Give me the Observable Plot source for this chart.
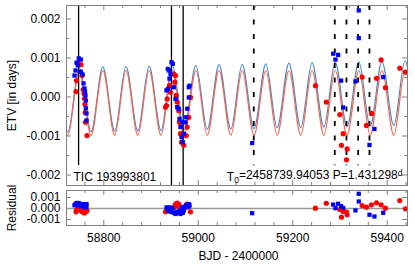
<!DOCTYPE html>
<html><head><meta charset="utf-8">
<script src="https://cdn.jsdelivr.net/npm/d3@7"></script>
<script src="https://cdn.jsdelivr.net/npm/@observablehq/plot@0.6"></script>
<style>
html,body{margin:0;padding:0;background:#fff;}
#chart svg{display:block;}
</style></head><body><div id="chart"></div>
<script>
// ---- data ----
const targetName = "TIC 193993801";
const epochT0 = "2458739.94053";
const periodP = "1.431298";
const yLabel = "ETV [in days]";
const resLabel = "Residual";
const xLabel = "BJD - 2400000";
const xTicks = [58800, 59000, 59200, 59400];
const yTicks = [-0.002, -0.001, 0, 0.001, 0.002];
const resTicks = [-0.001, 0, 0.001];

// red circles (time, ETV, residual)
const redT = [58741.1, 58742.2, 58744.9, 58751.7, 58754.2, 58756.4, 58758.0, 58759.1, 58760.2, 58760.6, 58761.2, 58764.4,
  58930.6, 58932.9, 58934.2, 58939.0, 58941.2, 58948.2, 58950.3, 58951.8, 58953.2, 58955.4, 58958.7, 58960.2, 58962.3, 58964.5, 58969.3, 58974.4, 58976.5, 58979.9, 58983.5,
  59248.1, 59271.0, 59299.6, 59303.2, 59306.8, 59313.8, 59315.2, 59347.0, 59356.1, 59366.7, 59377.3, 59387.2, 59396.3, 59426.6, 59438.7];
const redV = [0.00014, 0.00042, 0.00086, 0.00083, 0.00055, 0.00019, 0.00009, -0.00004, -0.00019, -0.00040, -0.00065, -0.00099,
  -0.00026, -0.00022, -0.00005, 0.00029, 0.00012, 0.00059, 0.00038, 0.00055, 0.00004, -0.00013, -0.00035, -0.00065, -0.00094, -0.00116, -0.00124, -0.00099, -0.00077, -0.00052, -0.00001,
  0.00029, -0.00013, -0.00045, -0.00124, -0.00094, -0.00161, -0.00133, 0.00051, -0.00073, -0.00042, 0.00048, 0.00095, 0.00024, 0.00074, 0.00064];
const redRes = [-0.0003, -0.0001, 0.0000, -0.0002, -0.0003, -0.0001, -0.0002, -0.0004, -0.0001, -0.0002, -0.0003, -0.0002,
  -0.0003, -0.0002, -0.0001, 0.0000, -0.0002, 0.0001, 0.0002, 0.0004, 0.0003, 0.0005, 0.0004, 0.0002, 0.0001, -0.0001, 0.0000, 0.0003, 0.0004, 0.0002, -0.0003,
  0.00003, 0.00048, -0.00009, -0.00079, -0.00027, -0.00034, -0.00057, 0.00027, 0.00012, 0.00034, 0.00052, 0.00034, 0.00003, 0.00073, -0.00003];

// blue squares (time, ETV, residual)
const blueT = [58737.9, 58740.1, 58742.2, 58744.9, 58747.0, 58751.3, 58751.3, 58754.9, 58757.0, 58759.1, 58760.2, 58761.2, 58761.9, 58761.9, 58763.3, 58763.3,
  58932.7, 58935.5, 58936.3, 58937.6, 58939.0, 58941.2, 58943.3, 58946.0, 58948.2, 58951.8, 58955.4, 58958.7, 58960.2, 58962.3, 58964.5, 58966.0, 58967.2, 58969.3, 58972.9, 58974.4, 58976.5, 58979.9, 58979.9, 58981.4,
  59114.1, 59285.6, 59290.5, 59296.2, 59302.5, 59306.8, 59332.8, 59339.8, 59339.8, 59362.5, 59373.0, 59391.5];
const blueV = [0.00055, 0.00068, 0.00088, 0.00081, 0.00099, 0.00096, 0.00065, 0.00058, 0.00035, 0.00022, 0.00014, 0.00004, -0.00009, -0.00029, -0.00042, -0.00060,
  0.00017, 0.00072, 0.00021, 0.00068, 0.00047, 0.00059, 0.00089, 0.00085, 0.00025, -0.00005, -0.00026, -0.00030, -0.00056, -0.00077, -0.00103, -0.00065, -0.00116, -0.00094, -0.00065, -0.00052, -0.00030, -0.00001, 0.00025, 0.00029,
  -0.00118, 0.00111, 0.00096, 0.00108, 0.00042, -0.00027, 0.00040, 0.00222, 0.00151, -0.00123, -0.00082, 0.00051];
const blueRes = [0.0003, 0.0004, 0.0005, 0.0003, 0.0005, 0.0004, 0.0002, 0.0003, 0.0002, 0.0004, 0.0003, 0.0002, 0.0003, 0.0001, 0.0004, 0.0002,
  0.0001, 0.0000, -0.0002, -0.0001, 0.0001, -0.0003, -0.0002, 0.0000, -0.0004, -0.0005, -0.0003, -0.0004, -0.0002, -0.0005, -0.0003, 0.0001, -0.0004, -0.0002, 0.0002, 0.0003, 0.0001, 0.0002, 0.0004, 0.0003,
  -0.00043, 0.00036, 0.00003, 0.00043, 0.00021, 0.00005, -0.00018, 0.00134, 0.00064, -0.00057, -0.00073, -0.00039];

// model curves: extrema
const bluePeakT = [58699, 58748, 58798, 58847, 58896, 58945, 58995, 59044, 59093, 59143, 59192, 59241, 59290, 59340, 59389, 59438, 59487];
const bluePeakV = [0.00074, 0.00075, 0.00077, 0.00078, 0.00079, 0.00080, 0.00081, 0.00083, 0.00084, 0.00085, 0.00087, 0.00088, 0.00089, 0.00090, 0.00091, 0.00093, 0.00094];
const blueTroughT = [58724, 58773, 58823, 58872, 58921, 58970, 59019, 59069, 59118, 59167, 59217, 59266, 59315, 59364, 59414, 59463];
const blueTroughV = [-0.00090, -0.00089, -0.00088, -0.00087, -0.00086, -0.00084, -0.00083, -0.00082, -0.00081, -0.00079, -0.00078, -0.00077, -0.00076, -0.00075, -0.00073, -0.00072];
const redPeakT = [58699, 58748, 58798, 58847, 58896, 58945, 58995, 59044, 59093, 59143, 59192, 59241, 59290, 59340, 59389, 59438, 59487];
const redPeakV = [0.00068, 0.00068, 0.00068, 0.00068, 0.00068, 0.00068, 0.00068, 0.00068, 0.00068, 0.00068, 0.00068, 0.00068, 0.00068, 0.00068, 0.00068, 0.00068, 0.00068];
const redTroughT = [58724, 58773, 58823, 58872, 58921, 58970, 59019, 59069, 59118, 59167, 59217, 59266, 59315, 59364, 59414, 59463];
const redTroughV = [-0.00098, -0.00098, -0.00098, -0.00098, -0.00098, -0.00098, -0.00098, -0.00098, -0.00098, -0.00098, -0.00098, -0.00098, -0.00098, -0.00098, -0.00098, -0.00098];

// vertical markers
const solidShortT = [58746.6];
const solidFullT = [58943.2, 58968.0];
const dashedT = [59117.5, 59289.0, 59313.8, 59338.5, 59362.5];
const markerBottom = -0.00176;

// ---- build ----
const xDomain = [58721, 59443];
const yDomain = [-0.002269, 0.002346];
const resDomain = [-0.00155, 0.00164];
const W = 415, ML = 66, MR = 8;
const FW = W - ML - MR;
const gray = "#808080";
const font = {fontFamily: "'Liberation Sans', Arial, Helvetica, sans-serif", fontSize: "12px", background: "white", color: "black"};

const red = redT.map((t, i) => ({t, v: redV[i], res: redRes[i]}));
const blue = blueT.map((t, i) => ({t, v: blueV[i], res: blueRes[i]}));
const mk = (pt, pv, tt, tv) => pt.map((t, i) => ({t, v: pv[i]})).concat(tt.map((t, i) => ({t, v: tv[i]}))).sort((a, b) => a.t - b.t);
const blueModel = mk(bluePeakT, bluePeakV, blueTroughT, blueTroughV);
const redModel = mk(redPeakT, redPeakV, redTroughT, redTroughV);

const xMinor = d3.range(58760, 59441, 40).filter(d => !xTicks.includes(d));
function frameTicks(FH, yMaj, yMin) {
  return [
    Plot.tickY(yMaj, {y: d => d, stroke: gray, insetRight: FW - 5}),
    Plot.tickY(yMaj, {y: d => d, stroke: gray, insetLeft: FW - 5}),
    Plot.tickY(yMin, {y: d => d, stroke: gray, insetRight: FW - 3}),
    Plot.tickY(yMin, {y: d => d, stroke: gray, insetLeft: FW - 3}),
    Plot.tickX(xTicks, {x: d => d, stroke: gray, insetTop: FH - 5}),
    Plot.tickX(xTicks, {x: d => d, stroke: gray, insetBottom: FH - 5}),
    Plot.tickX(xMinor, {x: d => d, stroke: gray, insetTop: FH - 3}),
    Plot.tickX(xMinor, {x: d => d, stroke: gray, insetBottom: FH - 3})
  ];
}

const t0Label = "T0=" + epochT0 + " P=" + periodP + "d";

const main = Plot.plot({
  width: W, height: 188, marginLeft: ML, marginRight: MR, marginTop: 5, marginBottom: 3,
  style: font,
  x: {domain: xDomain, axis: null},
  y: {domain: yDomain},
  marks: [
    ...frameTicks(180, yTicks, [-0.0015, -0.0005, 0.0005, 0.0015]),
    Plot.line(blueModel, {x: "t", y: "v", stroke: "#4a86c5", strokeWidth: 1.2, curve: "monotone-x", clip: true}),
    Plot.line(redModel, {x: "t", y: "v", stroke: "#f2694f", strokeWidth: 1.2, curve: "monotone-x", clip: true}),
    Plot.ruleX(solidShortT, {x: d => d, y1: yDomain[1], y2: markerBottom, stroke: "black", strokeWidth: 1.3}),
    Plot.ruleX(solidFullT, {x: d => d, stroke: "black", strokeWidth: 1.3}),
    Plot.ruleX(dashedT, {x: d => d, y1: yDomain[1], y2: markerBottom, stroke: "black", strokeWidth: 1.8, strokeDasharray: "5,9.5"}),
    Plot.dot(red, {x: "t", y: "v", r: 2.6, fill: "#ff0000", stroke: "none"}),
    Plot.dot(blue, {x: "t", y: "v", r: 2.4, symbol: "square", fill: "#0000ff", stroke: "none"}),
    Plot.frame({stroke: gray}),
    Plot.axisY(yTicks, {tickSize: 0, tickPadding: 6, tickFormat: d => d.toFixed(3), label: null}),
    Plot.text([targetName], {text: d => d, frameAnchor: "bottom-left", dx: 7, dy: -5, lineAnchor: "bottom", textAnchor: "start"}),
    Plot.text([t0Label], {text: d => d, frameAnchor: "bottom-right", dx: -5, dy: -5, lineAnchor: "bottom", textAnchor: "end"}),
    Plot.text([yLabel], {text: d => d, frameAnchor: "left", dx: -50.5, rotate: -90, lineAnchor: "bottom", textAnchor: "middle"})
  ]
});

const resid = Plot.plot({
  width: W, height: 76, marginLeft: ML, marginRight: MR, marginTop: 2, marginBottom: 39,
  style: {...font, overflow: "visible"},
  x: {domain: xDomain},
  y: {domain: resDomain},
  marks: [
    ...frameTicks(35, resTicks, []),
    Plot.ruleY([0], {stroke: "#999999", strokeWidth: 1.5}),
    Plot.dot(red, {x: "t", y: "res", r: 2.6, fill: "#ff0000", stroke: "none"}),
    Plot.dot(blue, {x: "t", y: "res", r: 2.4, symbol: "square", fill: "#0000ff", stroke: "none"}),
    Plot.frame({stroke: gray}),
    Plot.axisY(resTicks, {tickSize: 0, tickPadding: 6, tickFormat: d => d.toFixed(3), label: null}),
    Plot.axisX(xTicks, {tickSize: 0, tickPadding: 8, tickFormat: d => String(d), label: null}),
    Plot.text([resLabel], {text: d => d, frameAnchor: "left", dx: -51, rotate: -90, lineAnchor: "bottom", textAnchor: "middle"}),
    Plot.text([xLabel], {text: d => d, frameAnchor: "bottom", dx: 1.5, dy: 34.5, lineAnchor: "bottom", textAnchor: "middle"})
  ]
});

const host = document.getElementById("chart");
host.appendChild(main);
host.appendChild(resid);

// subscript / superscript in the ephemeris label
d3.select(main).selectAll("text").filter(function() { return this.textContent === t0Label; }).each(function() {
  const el = d3.select(this);
  el.text(null);
  el.append("tspan").text("T");
  el.append("tspan").attr("dy", "0.3em").attr("font-size", "8.5px").text("0");
  el.append("tspan").attr("dy", "-0.3em").text("=" + epochT0 + " P=" + periodP);
  el.append("tspan").attr("dy", "-0.45em").attr("font-size", "8.5px").text("d");
});
</script>
</body></html>
